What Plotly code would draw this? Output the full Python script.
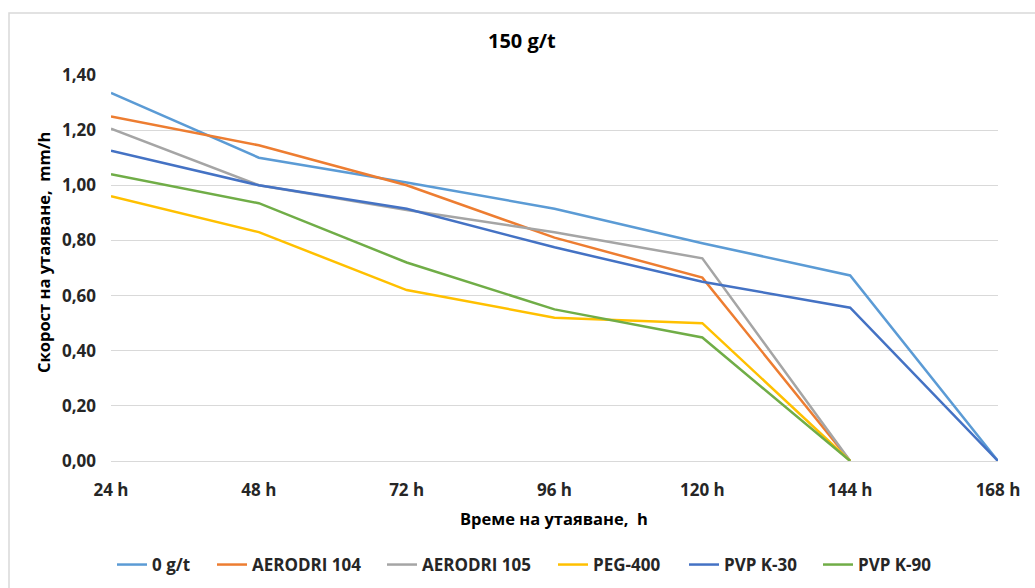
import plotly.graph_objects as go

categories = ["24 h", "48 h", "72 h", "96 h", "120 h", "144 h", "168 h"]
s_0gt = [1.335, 1.10, 1.01, 0.915, 0.79, 0.673, 0.0]
s_aer104 = [1.25, 1.145, 1.00, 0.81, 0.665, 0.0, None]
s_aer105 = [1.205, 1.00, 0.91, 0.83, 0.735, 0.0, None]
s_peg400 = [0.96, 0.83, 0.62, 0.52, 0.50, 0.0, None]
s_pvpk30 = [1.125, 1.00, 0.915, 0.775, 0.65, 0.556, 0.0]
s_pvpk90 = [1.04, 0.935, 0.72, 0.55, 0.448, 0.0, None]

names = ["0 g/t", "AERODRI 104", "AERODRI 105", "PEG-400", "PVP K-30", "PVP K-90"]
series = [s_0gt, s_aer104, s_aer105, s_peg400, s_pvpk30, s_pvpk90]
colors = ["#5B9BD5", "#ED7D31", "#A5A5A5", "#FFC000", "#4472C4", "#70AD47"]

title_text = "150 g/t"
x_title = "Време на утаяване,  h"
y_title = "Скорост на утаяване,  mm/h"

FF = "'Open Sans', Lato, sans-serif"
W, H = 1035, 588
l, r, t, b = 111, 37, 75, 127
pw, ph = W - l - r, H - t - b


def px_x(p):
    return (p - l) / pw


def px_y(p):
    return (H - b - p) / ph


# legend swatch start positions (pixels) for each entry
legend_x_px = [117, 217, 387, 558, 689, 823]

fig = go.Figure()
legend_layouts = {}
for i, (n, s, c) in enumerate(zip(names, series, colors)):
    lg = "legend" if i == 0 else f"legend{i + 1}"
    fig.add_trace(go.Scatter(x=categories, y=s, name=n, mode="lines",
                             line=dict(color=c, width=2.5), legend=lg))
    legend_layouts[lg] = dict(
        orientation="h", x=px_x(legend_x_px[i] - 5), xanchor="left",
        y=px_y(565), yanchor="middle", xref="paper", yref="paper",
        font=dict(size=17, color="#262626", family=FF, weight="bold"),
        bgcolor="rgba(0,0,0,0)", borderwidth=0, itemwidth=30,
    )

fig.update_layout(
    width=W, height=H,
    margin=dict(l=l, r=r, t=t, b=b, autoexpand=False),
    paper_bgcolor="white", plot_bgcolor="white",
    font=dict(family=FF, color="#000000"),
    separators=", ",
    showlegend=True,
    xaxis=dict(type="category", range=[0, 6], showgrid=False, showline=True,
               linecolor="#D9D9D9", linewidth=1, ticks="",
               ticklabelstandoff=14, automargin=False,
               tickfont=dict(size=17, color="#262626", family=FF, weight="bold")),
    yaxis=dict(range=[0, 1.4], dtick=0.2, tickformat=".2f",
               showgrid=True, gridcolor="#D9D9D9", gridwidth=1, zeroline=False,
               ticks="", ticklabelstandoff=14, automargin=False,
               tickfont=dict(size=17, color="#262626", family=FF, weight="bold")),
    annotations=[
        dict(text=title_text, xref="paper", yref="paper", x=px_x(522), y=px_y(41),
             xanchor="center", yanchor="middle", showarrow=False,
             font=dict(size=20, color="#000", family=FF, weight="bold")),
        dict(text=x_title, xref="paper", yref="paper", x=px_x(554), y=px_y(518),
             xanchor="center", yanchor="middle", showarrow=False,
             font=dict(size=16.5, color="#000", family=FF, weight="bold")),
        dict(text=y_title, xref="paper", yref="paper", x=px_x(43), y=px_y(253),
             xanchor="center", yanchor="middle", showarrow=False, textangle=-90,
             font=dict(size=16.5, color="#000", family=FF, weight="bold")),
    ],
    shapes=[dict(type="rect", xref="paper", yref="paper",
                 x0=px_x(9), x1=px_x(1040), y0=px_y(13), y1=px_y(600),
                 line=dict(color="#D9D9D9", width=1.5), fillcolor="rgba(0,0,0,0)",
                 layer="below")],
    **legend_layouts,
)

fig.write_html("out.html")
